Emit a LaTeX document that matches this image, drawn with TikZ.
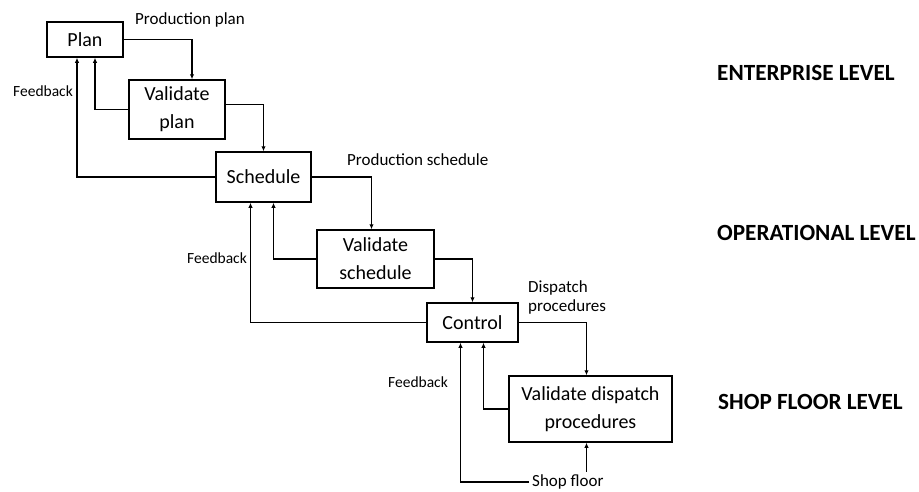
\documentclass[tikz,border=0pt]{standalone}
\usepackage{fontspec}
\setmainfont{Carlito}
\usetikzlibrary{positioning}
\usetikzlibrary{arrows.meta}

\begin{document}
\begin{tikzpicture}[x=1pt, y=-1pt,
  box/.style = {shape=rectangle, draw, line width=1.5pt, align=center,
    font=\fontsize{20}{28}\selectfont, inner sep=0pt},
  lbl/.style = {anchor=west, inner sep=0pt, align=left,
    font=\fontsize{17}{19}\selectfont},
  fb/.style = {anchor=west, inner sep=0pt, font=\fontsize{15.5}{18}\selectfont},
  level/.style = {anchor=west, inner sep=0pt, font=\fontsize{23.2}{26}\selectfont\bfseries},
  link/.style = {-{Latex[length=5pt,width=4.5pt]}, draw, line width=1.5pt}
  ]
  \useasboundingbox (0,0) rectangle (919,491);

  \node[box, minimum width=76pt, minimum height=35pt] (plan) at (85,39.5) {Plan};
  \node[box, minimum width=96pt, minimum height=59pt] (vplan) at (177,109.5) {Validate\\plan};
  \node[box, minimum width=95pt, minimum height=50pt] (sched) at (263.5,177) {Schedule};
  \node[box, minimum width=117pt, minimum height=58pt] (vsched) at (375.5,259) {Validate\\schedule};
  \node[box, minimum width=91pt, minimum height=39pt] (control) at (472.5,322.5) {Control};
  \node[box, minimum width=163pt, minimum height=66pt] (vdp) at (590.5,409) {Validate dispatch\\procedures};

  \node[lbl] (pplan) at (135,20) {Production plan};
  \node[lbl] (psched) at (347,160) {Production schedule};
  \node[lbl] (dproc) at (528,297.5) {Dispatch\\procedures};
  \node[lbl, inner sep=3pt] (shop) at (529,482) {Shop floor};
  \node[fb] (fb1) at (13,91) {Feedback};
  \node[fb] (fb2) at (187,258) {Feedback};
  \node[fb] (fb3) at (388,382) {Feedback};

  \node[level] (ent) at (717,73) {ENTERPRISE LEVEL};
  \node[level] (oper) at (717,233) {OPERATIONAL LEVEL};
  \node[level] (floor) at (718,402) {SHOP FLOOR LEVEL};

  % enterprise
  \draw[link] (plan.east) -| ([xshift=15pt]vplan.north);
  \draw[link] (vplan.west) -| ([xshift=10pt]plan.south);
  \draw[link] (sched.west) -| ([xshift=-8pt]plan.south);
  \draw[link] ([yshift=5pt]vplan.east) -| (sched.north);
  % operational
  \draw[link] (sched.east) -| ([xshift=-4pt]vsched.north);
  \draw[link] (vsched.west) -| ([xshift=10pt]sched.south);
  \draw[link] (control.west) -| ([xshift=-13pt]sched.south);
  \draw[link] (vsched.east) -| (control.north);
  % shop floor
  \draw[link] (control.east) -| ([xshift=-4pt]vdp.north);
  \draw[link] (vdp.west) -| ([xshift=11pt]control.south);
  \draw[link] (shop.west) -| ([xshift=-12pt]control.south);
  \coordinate (vdpin) at ([xshift=-4pt]vdp.south);
  \draw[link] (vdpin |- shop.north) -- (vdpin);
\end{tikzpicture}
\end{document}
